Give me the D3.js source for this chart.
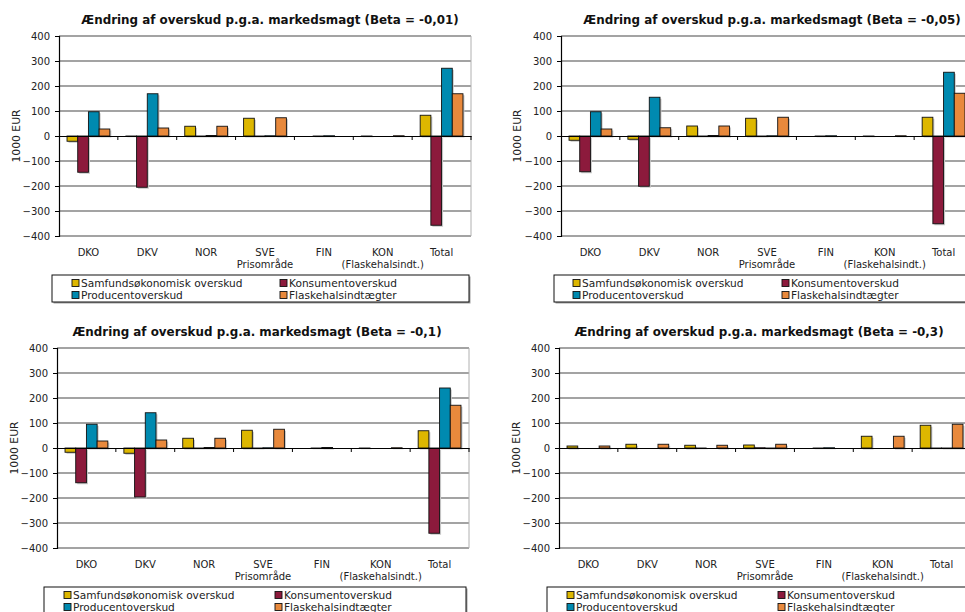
<!DOCTYPE html>
<html>
<head>
<meta charset="utf-8">
<script src="https://cdn.jsdelivr.net/npm/d3@7/dist/d3.min.js"></script>
<style>
  html, body { margin: 0; padding: 0; background: #fff; }
  svg { display: block; font-family: "DejaVu Sans", Verdana, sans-serif; }
</style>
</head>
<body>
<svg id="chart" width="965" height="612"></svg>
<script>
// ---------- DATA ----------
const categories = ["DKO", "DKV", "NOR", "SVE\nPrisområde", "FIN", "KON\n(Flaskehalsindt.)", "Total"];
const seriesNames = ["Samfundsøkonomisk overskud", "Konsumentoverskud", "Producentoverskud", "Flaskehalsindtægter"];
const betaLabels = ["-0,01", "-0,05", "-0,1", "-0,3"];
const yTicks = [400, 300, 200, 100, 0, -100, -200, -300, -400];
const yLabel = "1000 EUR";

// Beta = -0,01
const b001_samfund    = [-21, -1, 39, 71, 0, -1, 83];
const b001_konsument  = [-145, -205, -2, -2, -1, 0, -357];
const b001_producent  = [97, 169, 2, 1, 1, 0, 271];
const b001_flaskehals = [28, 32, 39, 73, 0, 1, 169];
// Beta = -0,05
const b005_samfund    = [-17, -13, 40, 71, 0, -1, 75];
const b005_konsument  = [-143, -201, -2, -2, -1, 0, -351];
const b005_producent  = [97, 155, 2, 1, 1, 0, 255];
const b005_flaskehals = [28, 33, 40, 75, 0, 1, 171];
// Beta = -0,1
const b01_samfund     = [-17, -21, 39, 71, 0, -1, 69];
const b01_konsument   = [-139, -196, -2, -2, -1, 0, -341];
const b01_producent   = [95, 141, 2, 1, 2, 0, 240];
const b01_flaskehals  = [28, 32, 39, 75, 0, 1, 171];
// Beta = -0,3
const b03_samfund     = [8, 15, 11, 12, 0, 47, 91];
const b03_konsument   = [0, 0, -1, 1, -1, 0, -1];
const b03_producent   = [0, 0, 0, -2, 1, 0, -2];
const b03_flaskehals  = [8, 15, 11, 15, 0, 47, 95];

const panelData = [
  [b001_samfund, b001_konsument, b001_producent, b001_flaskehals],
  [b005_samfund, b005_konsument, b005_producent, b005_flaskehals],
  [b01_samfund, b01_konsument, b01_producent, b01_flaskehals],
  [b03_samfund, b03_konsument, b03_producent, b03_flaskehals]
];

// ---------- STYLE / LAYOUT ----------
const colors = ["#DDB700", "#8C1A3C", "#008AB0", "#E8893C"];
const layout = [
  { x0: 59,  x1: 471, y0: 36,  y1: 236, titleX: 270, titleY: 24,  labX: 16,  legX: 52,  legY: 275, legW: 417, sq1: 72,  sq2: 280 },
  { x0: 561, x1: 973, y0: 36,  y1: 236, titleX: 772, titleY: 24,  labX: 517, legX: 554, legY: 275, legW: 417, sq1: 573, sq2: 782 },
  { x0: 57,  x1: 469, y0: 348, y1: 548, titleX: 257, titleY: 336, labX: 14,  legX: 44,  legY: 587, legW: 422, sq1: 64,  sq2: 275 },
  { x0: 559, x1: 971, y0: 348, y1: 548, titleX: 759, titleY: 336, labX: 516, legX: 547, legY: 587, legW: 422, sq1: 567, sq2: 778 }
];

const svg = d3.select("#chart");

layout.forEach((L, pi) => {
  const g = svg.append("g");
  const data = panelData[pi];

  const y = d3.scaleLinear().domain([-400, 400]).range([L.y1, L.y0]);
  const x = d3.scaleBand().domain(categories).range([L.x0, L.x1]).paddingInner(0).paddingOuter(0);
  // 4 bars + gap of 1.5 bar widths per category (0.75 bar on each side)
  const bw = x.bandwidth() / 5.5;
  const xs = d3.scaleBand().domain(d3.range(seriesNames.length))
    .range([0.75 * bw, 4.75 * bw]).paddingInner(0).paddingOuter(0);

  // gridlines
  g.append("g")
    .selectAll("line")
    .data(yTicks.filter(t => t !== 0))
    .join("line")
    .attr("x1", L.x0).attr("x2", L.x1)
    .attr("y1", d => y(d)).attr("y2", d => y(d))
    .attr("stroke", "#858585").attr("stroke-width", 1.4);

  // right border of plot area
  g.append("line")
    .attr("x1", L.x1).attr("x2", L.x1).attr("y1", L.y0).attr("y2", L.y1)
    .attr("stroke", "#b0b0b0").attr("stroke-width", 1);

  // bars
  const bars = [];
  data.forEach((vals, si) => vals.forEach((v, ci) => bars.push({ si, ci, v })));
  // shadows
  g.append("g").selectAll("rect")
    .data(bars.filter(b => Math.abs(b.v) > 0))
    .join("rect")
    .attr("x", d => x(categories[d.ci]) + xs(d.si) + 1.5)
    .attr("y", d => Math.min(y(d.v), y(0)) + 1.5)
    .attr("width", xs.bandwidth())
    .attr("height", d => Math.abs(y(d.v) - y(0)))
    .attr("fill", "#c8c8c8");
  g.append("g").selectAll("rect")
    .data(bars)
    .join("rect")
    .attr("x", d => x(categories[d.ci]) + xs(d.si))
    .attr("y", d => Math.min(y(d.v), y(0)))
    .attr("width", xs.bandwidth())
    .attr("height", d => Math.abs(y(d.v) - y(0)))
    .attr("fill", d => colors[d.si])
    .attr("stroke", "#111")
    .attr("stroke-width", 0.9);

  // y axis
  const yAxis = d3.axisLeft(y).tickValues(yTicks).tickSize(4).tickPadding(5).tickFormat(d3.format("d"));
  const ya = g.append("g").attr("transform", `translate(${L.x0},0)`).call(yAxis);
  ya.select(".domain").attr("stroke", "#000").attr("stroke-width", 1.2);
  ya.selectAll(".tick line").attr("stroke", "#000");
  ya.selectAll(".tick text").attr("font-size", 10).attr("fill", "#222")
    .attr("font-family", "DejaVu Sans, Verdana, sans-serif");

  // zero axis with category ticks downward
  const xAxis = d3.axisBottom(x).tickSize(0).tickFormat("");
  const xa = g.append("g").attr("transform", `translate(0,${y(0)})`).call(xAxis);
  xa.select(".domain").attr("stroke", "#000").attr("stroke-width", 1.2);
  xa.selectAll(".tick").remove();
  g.append("g").selectAll("line")
    .data(categories)
    .join("line")
    .attr("x1", d => x(d) + x.bandwidth())
    .attr("x2", d => x(d) + x.bandwidth())
    .attr("y1", y(0)).attr("y2", y(0) + 4)
    .attr("stroke", "#000").attr("stroke-width", 1);

  // category labels
  g.append("g").selectAll("text")
    .data(categories)
    .join("text")
    .attr("x", d => x(d) + x.bandwidth() / 2)
    .attr("y", L.y1 + 20)
    .attr("text-anchor", "middle")
    .attr("font-size", 10).attr("fill", "#222")
    .each(function(d) {
      const lines = d.split("\n");
      d3.select(this).selectAll("tspan").data(lines).join("tspan")
        .attr("x", x(d) + x.bandwidth() / 2)
        .attr("dy", (l, i) => i === 0 ? 0 : 12)
        .text(l => l);
    });

  // y label
  g.append("text")
    .attr("transform", `translate(${L.labX + 3.5},${(L.y0 + L.y1) / 2}) rotate(-90)`)
    .attr("text-anchor", "middle")
    .attr("font-size", 10.8).attr("fill", "#222")
    .text(yLabel);

  // title
  g.append("text")
    .attr("x", L.titleX).attr("y", L.titleY)
    .attr("text-anchor", "middle")
    .attr("font-size", 11.9).attr("font-weight", "bold").attr("fill", "#111")
    .text(`Ændring af overskud p.g.a. markedsmagt (Beta = ${betaLabels[pi]})`);

  // legend
  g.append("rect")
    .attr("x", L.legX + 1.5).attr("y", L.legY + 1.5)
    .attr("width", L.legW).attr("height", 27)
    .attr("fill", "#a0a0a0");
  g.append("rect")
    .attr("x", L.legX).attr("y", L.legY)
    .attr("width", L.legW).attr("height", 27)
    .attr("fill", "#fff").attr("stroke", "#111").attr("stroke-width", 1);
  const legPos = [
    { x: L.sq1, y: L.legY + 8 },
    { x: L.sq2, y: L.legY + 8 },
    { x: L.sq1, y: L.legY + 20 },
    { x: L.sq2, y: L.legY + 20 }
  ];
  const li = g.append("g").selectAll("g")
    .data(seriesNames)
    .join("g")
    .attr("transform", (d, i) => `translate(${legPos[i].x},${legPos[i].y})`);
  li.append("rect")
    .attr("x", 0).attr("y", -3.5).attr("width", 7).attr("height", 7)
    .attr("fill", (d, i) => colors[i]).attr("stroke", "#111").attr("stroke-width", 0.9);
  li.append("text")
    .attr("x", 9).attr("y", 3.9)
    .attr("font-size", 10.6).attr("fill", "#222")
    .text(d => d);
});
</script>
</body>
</html>
